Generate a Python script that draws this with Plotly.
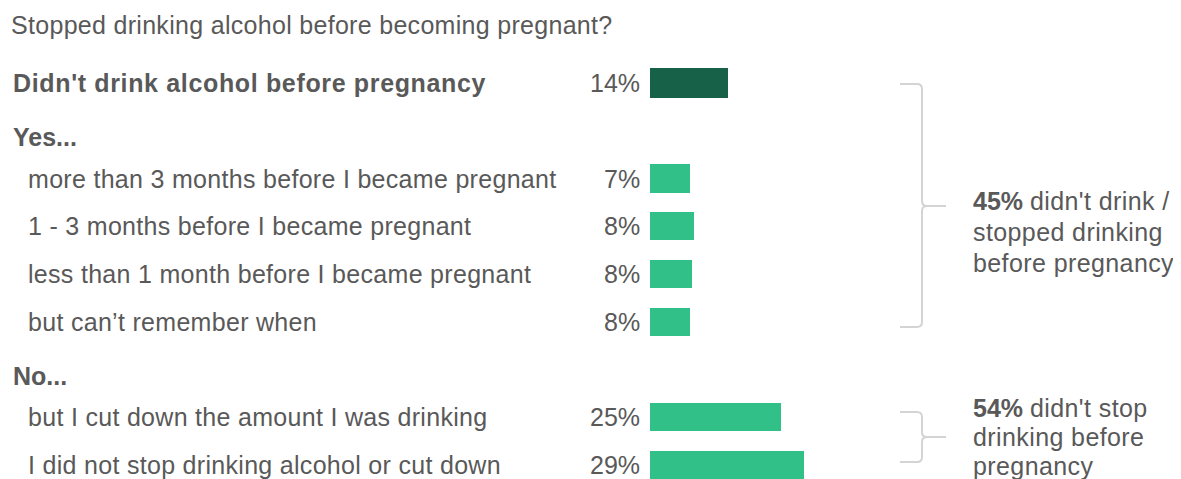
import plotly.graph_objects as go

W, H = 1181, 479
OFF = 8  # page body margin offset
FW, FH = W - OFF, H - OFF

title = "Stopped drinking alcohol before becoming pregnant?"
row_labels = [
    "Didn't drink alcohol before pregnancy",
    "Yes...",
    "more than 3 months before I became pregnant",
    "1 - 3 months before I became pregnant",
    "less than 1 month before I became pregnant",
    "but can\u2019t remember when",
    "No...",
    "but I cut down the amount I was drinking",
    "I did not stop drinking alcohol or cut down",
]
row_kind = ["head", "group", "sub", "sub", "sub", "sub", "group", "sub", "sub"]
values = [14.5, None, 7.4, 8.2, 7.8, 7.4, None, 24.4, 28.8]
value_labels = ["14%", "", "7%", "8%", "8%", "8%", "", "25%", "29%"]
bar_colors = ["#186149", None, "#31C087", "#31C087", "#31C087", "#31C087", None, "#31C087", "#31C087"]

group_notes = [
    ("45%", ["didn't drink /", "stopped drinking", "before pregnancy"]),
    ("54%", ["didn't stop", "drinking before", "pregnancy"]),
]

GRAY = "#595959"
BRACE = "#d4d4d4"
FONT = "Liberation Sans, Arial, sans-serif"
FS = 25

# pixel geometry (reference pixels)
x0_px = 650.0
s = 5.35  # px per percent
row0_px = 83.0
row_step = 47.75


def px_x(px):
    return (px - OFF) / FW


def px_y(py):
    return 1 - (py - OFF) / FH


def ls(t, sp):
    return f'<span style="letter-spacing:{sp}px">{t}</span>'


fig = go.Figure()

idx = [i for i, v in enumerate(values) if v is not None]
fig.add_trace(go.Bar(
    orientation="h",
    y=idx,
    x=[values[i] for i in idx],
    marker=dict(color=[bar_colors[i] for i in idx], line=dict(width=0)),
    width=[0.63 if i == 0 else 0.59 for i in idx],
    hoverinfo="skip",
))

annotations = []
annotations.append(dict(
    text=ls(title, 0.3), xref="paper", yref="paper", x=px_x(9), y=px_y(25),
    xanchor="left", yanchor="middle", showarrow=False,
    font=dict(family=FONT, size=FS, color=GRAY),
))

for i, (lab, kind) in enumerate(zip(row_labels, row_kind)):
    if kind == "head":
        annotations.append(dict(
            text="<b>" + ls(lab, 0.65) + "</b>", xref="paper", yref="y", x=px_x(11), y=i,
            xanchor="left", yanchor="middle", showarrow=False,
            font=dict(family=FONT, size=FS, color=GRAY),
        ))
    elif kind == "group":
        annotations.append(dict(
            text="<b>" + lab + "</b>", xref="paper", yref="y", x=px_x(11), y=i, yshift=-6,
            xanchor="left", yanchor="middle", showarrow=False,
            font=dict(family=FONT, size=FS, color=GRAY),
        ))
    else:
        annotations.append(dict(
            text=ls(lab, 0.3), xref="paper", yref="y", x=px_x(26), y=i,
            xanchor="left", yanchor="middle", showarrow=False,
            font=dict(family=FONT, size=FS, color=GRAY),
        ))
    if value_labels[i]:
        annotations.append(dict(
            text=value_labels[i], xref="x", yref="y", x=0, y=i, xshift=-8,
            xanchor="right", yanchor="middle", showarrow=False,
            font=dict(family=FONT, size=FS, color=GRAY),
        ))

# group notes
note_pos = [(201, 31), (408, 29)]
for (pct, lines), (ytop, step) in zip(group_notes, note_pos):
    for k, ln in enumerate(lines):
        txt = ("<b>" + pct + "</b> " + ls(ln, 0.4)) if k == 0 else ls(ln, 0.4)
        annotations.append(dict(
            text=txt, xref="paper", yref="paper", x=px_x(971), y=px_y(ytop + k * step),
            xanchor="left", yanchor="middle", showarrow=False,
            font=dict(family=FONT, size=FS, color=GRAY),
        ))


def brace_path(top, bot, mid, xl=900, xv=922, xt=946, r=5):
    def P(x, y):
        return f"{px_x(x):.5f},{px_y(y):.5f}"
    return (
        f"M {P(xl, top)} L {P(xv - r, top)} Q {P(xv, top)} {P(xv, top + r)} "
        f"L {P(xv, mid - r)} Q {P(xv, mid)} {P(xv + r, mid)} L {P(xt, mid)} "
        f"M {P(xv + r, mid)} Q {P(xv, mid)} {P(xv, mid + r)} "
        f"L {P(xv, bot - r)} Q {P(xv, bot)} {P(xv - r, bot)} L {P(xl, bot)}"
    )


shapes = [
    dict(type="path", xref="paper", yref="paper", path=brace_path(84, 327, 206),
         line=dict(color=BRACE, width=2)),
    dict(type="path", xref="paper", yref="paper", path=brace_path(412, 462, 437),
         line=dict(color=BRACE, width=2)),
]

fig.update_layout(
    width=FW, height=FH,
    margin=dict(l=0, r=0, t=0, b=0),
    paper_bgcolor="white", plot_bgcolor="white",
    showlegend=False,
    xaxis=dict(range=[-(x0_px - OFF) / s, (W - x0_px) / s], domain=[0, 1],
               visible=False, fixedrange=True),
    yaxis=dict(range=[(H - row0_px) / row_step, -(row0_px - OFF) / row_step], domain=[0, 1],
               visible=False, fixedrange=True),
    annotations=annotations,
    shapes=shapes,
    bargap=0,
)

fig.write_html("out.html", config={"displayModeBar": False})
